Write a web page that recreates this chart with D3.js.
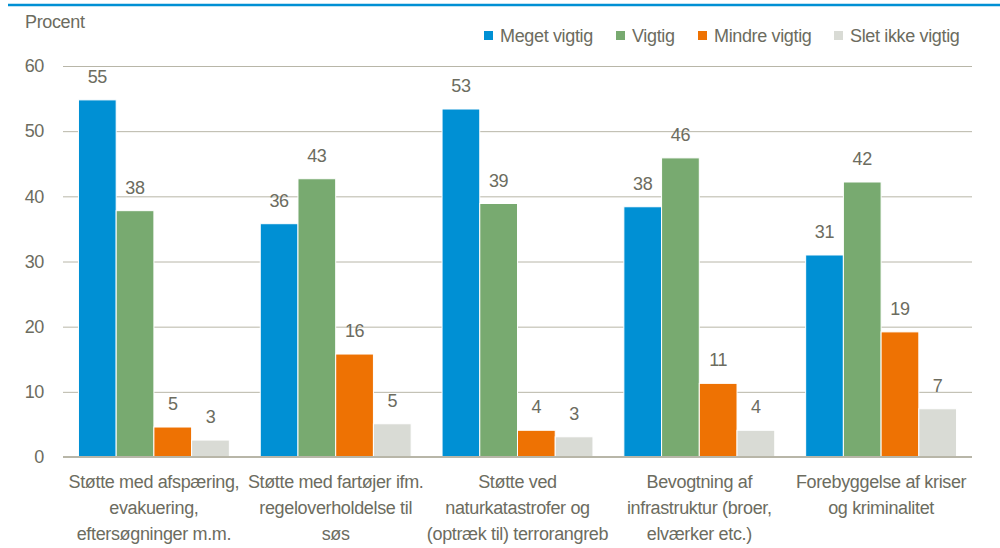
<!DOCTYPE html>
<html><head><meta charset="utf-8">
<script src="https://cdn.jsdelivr.net/npm/d3@7"></script>
<style>body{margin:0;background:#fff}svg{display:block;font-family:"Liberation Sans",Arial,sans-serif}text{letter-spacing:-0.35px}</style>
</head><body>
<svg id="c" width="1000" height="548"></svg>
<script>
const categories = [
  ["Støtte med afspæring,", "evakuering,", "eftersøgninger m.m."],
  ["Støtte med fartøjer ifm.", "regeloverholdelse til", "søs"],
  ["Støtte ved", "naturkatastrofer og", "(optræk til) terrorangreb"],
  ["Bevogtning af", "infrastruktur (broer,", "elværker etc.)"],
  ["Forebyggelse af kriser", "og kriminalitet"]
];
const seriesNames = ["Meget vigtig", "Vigtig", "Mindre vigtig", "Slet ikke vigtig"];
const megetVigtig = [54.8, 35.8, 53.4, 38.4, 31.0];
const vigtig = [37.8, 42.7, 38.9, 45.9, 42.2];
const mindreVigtig = [4.6, 15.8, 4.1, 11.3, 19.2];
const sletIkkeVigtig = [2.6, 5.1, 3.1, 4.1, 7.4];
const yTicks = [0, 10, 20, 30, 40, 50, 60];
const colors = ["#0090d4", "#78aa70", "#ee7203", "#d9dbd5"];
const textColor = "#6c6c60";

const series = [megetVigtig, vigtig, mindreVigtig, sletIkkeVigtig];
const svg = d3.select("#c");
const m = {l: 63, r: 28, t: 66, b: 91};
const W = 1000, H = 548;
const x0 = d3.scaleBand().domain(d3.range(categories.length)).range([m.l, W - m.r]).paddingInner(0.17).paddingOuter(0.085);
const x1 = d3.scaleBand().domain(d3.range(series.length)).range([0, x0.bandwidth()]);
const y = d3.scaleLinear().domain([0, 60]).range([H - m.b, m.t]);

// top rule
svg.append("line").attr("x1", 8).attr("x2", 1000).attr("y1", 5).attr("y2", 5).attr("stroke", "#0090d4").attr("stroke-width", 2.5);

// grid
const yAxis = d3.axisLeft(y).tickValues(yTicks).tickSize(-(W - m.l - m.r)).tickPadding(19);
const g = svg.append("g").attr("transform", `translate(${m.l},0)`).call(yAxis);
g.select(".domain").remove();
g.selectAll(".tick line").attr("stroke", "#b8b6a8").attr("stroke-width", 1);
g.selectAll(".tick text").attr("fill", textColor).style("font-size", "18px").style("font-family", "Liberation Sans, Arial, sans-serif");

// bars
const groups = svg.append("g").selectAll("g").data(categories).join("g")
  .attr("transform", (d, i) => `translate(${x0(i)},0)`);
groups.each(function(c, ci) {
  const gg = d3.select(this);
  series.forEach((s, si) => {
    gg.append("rect").attr("x", x1(si)).attr("width", x1.bandwidth())
      .attr("y", y(s[ci])).attr("height", y(0) - y(s[ci]))
      .attr("fill", colors[si]).attr("stroke", "#fff").attr("stroke-width", 1);
    gg.append("text").attr("x", x1(si) + x1.bandwidth() / 2).attr("y", y(s[ci]) - 17)
      .attr("text-anchor", "middle").attr("fill", textColor).style("font-size", "18px")
      .text(d3.format(".0f")(s[ci]));
  });
});

// x axis line
svg.append("line").attr("x1", m.l).attr("x2", W - m.r).attr("y1", y(0)).attr("y2", y(0)).attr("stroke", "#b8b6a8").attr("stroke-width", 2);

// category labels
categories.forEach((lines, i) => {
  const t = svg.append("text").attr("text-anchor", "middle").attr("fill", textColor).style("font-size", "18px");
  lines.forEach((ln, j) => {
    t.append("tspan").attr("x", x0(i) + x0.bandwidth() / 2).attr("y", 488 + j * 26).text(ln);
  });
});

// y title
svg.append("text").attr("x", 25).attr("y", 28).attr("fill", textColor).style("font-size", "18px").text("Procent");

// legend
const legX = [484, 616, 698, 834];
seriesNames.forEach((n, i) => {
  svg.append("rect").attr("x", legX[i]).attr("y", 31).attr("width", 9).attr("height", 9).attr("fill", colors[i]);
  svg.append("text").attr("x", legX[i] + 16).attr("y", 42).attr("fill", textColor).style("font-size", "18px").text(n);
});
</script>
</body></html>
